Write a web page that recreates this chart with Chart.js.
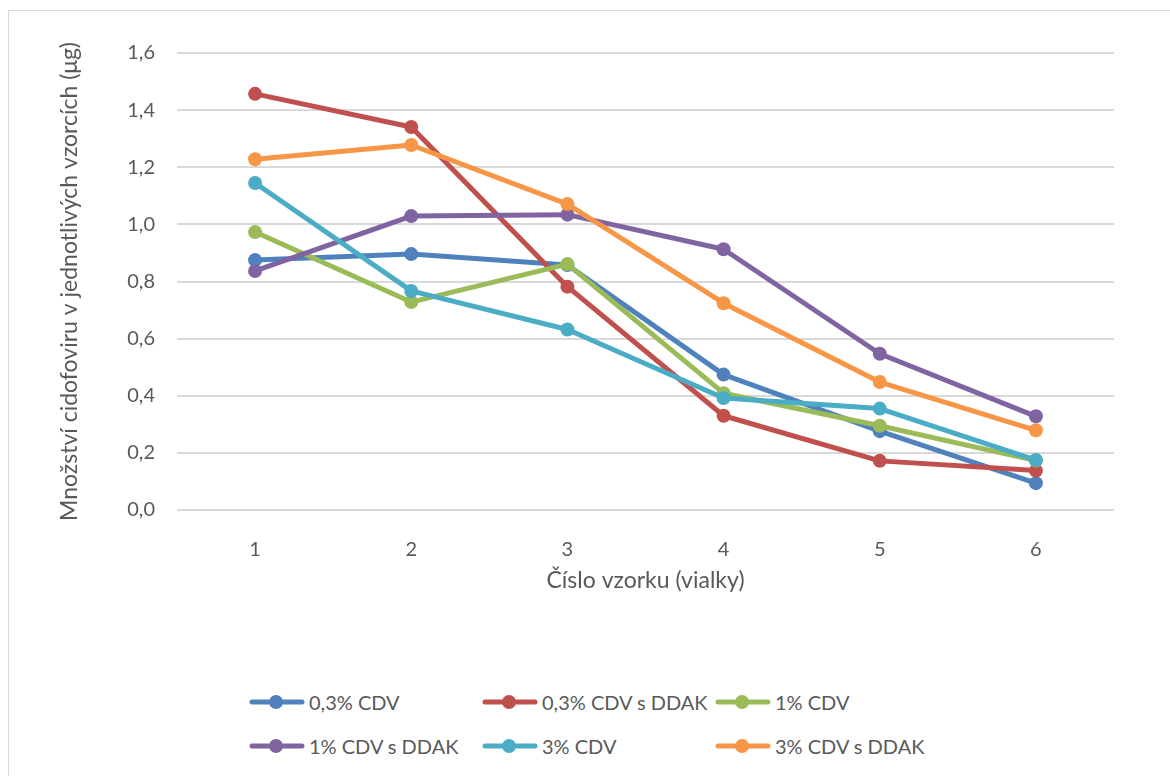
<!DOCTYPE html>
<html>
<head>
<meta charset="utf-8">
<script src="https://cdn.jsdelivr.net/npm/chart.js@4.4.1/dist/chart.umd.min.js"></script>
<style>
  html, body { margin: 0; padding: 0; background: #ffffff; }
  body { width: 1170px; height: 776px; position: relative; overflow: hidden; font-family: Lato, "Open Sans", sans-serif; }
  #frame { position: absolute; left: 8px; top: 10px; width: 1200px; height: 800px; border: 1px solid #d9d9d9; box-sizing: border-box; }
  #wrap { position: absolute; left: 0; top: 0; width: 1170px; height: 640px; }
  #legend { position: absolute; left: 249px; top: 688px; display: grid; grid-template-columns: 233px 233px 233px; grid-auto-rows: 44px; }
  .item { display: flex; align-items: center; height: 28px; color: #595959; font-size: 20px; white-space: nowrap; }
  .item svg { flex: none; margin-right: 4px; }
</style>
</head>
<body>
<div id="frame"></div>
<div id="wrap"><canvas id="chart"></canvas></div>
<div id="legend"></div>
<script>
// Sample numbers (vials) on the x axis
const categories = ['1', '2', '3', '4', '5', '6'];

// Amount of cidofovir found in each sample (µg)
const cdv03      = [0.875, 0.896, 0.858, 0.474, 0.276, 0.094];
const cdv03Ddak  = [1.457, 1.341, 0.782, 0.330, 0.172, 0.138];
const cdv1       = [0.973, 0.728, 0.861, 0.409, 0.295, 0.173];
const cdv1Ddak   = [0.837, 1.029, 1.034, 0.913, 0.547, 0.328];
const cdv3       = [1.145, 0.767, 0.632, 0.392, 0.355, 0.175];
const cdv3Ddak   = [1.228, 1.278, 1.071, 0.724, 0.448, 0.279];

const seriesLabels = ['0,3% CDV', '0,3% CDV s DDAK', '1% CDV', '1% CDV s DDAK', '3% CDV', '3% CDV s DDAK'];
const seriesValues = [cdv03, cdv03Ddak, cdv1, cdv1Ddak, cdv3, cdv3Ddak];
const seriesColors = ['#4F81BD', '#C0504D', '#9BBB59', '#8064A2', '#4BACC6', '#F79646'];

// Value axis ticks
const yTicks = [0, 0.2, 0.4, 0.6, 0.8, 1.0, 1.2, 1.4, 1.6];

const textColor = '#595959';
const fontFamily = 'Lato, "Open Sans", sans-serif';

const datasets = seriesValues.map((values, i) => ({
  label: seriesLabels[i],
  data: values,
  borderColor: seriesColors[i],
  backgroundColor: seriesColors[i],
  pointBackgroundColor: seriesColors[i],
  pointBorderColor: seriesColors[i],
  borderWidth: 5,
  pointRadius: 7,
  pointBorderWidth: 0,
  pointHoverRadius: 7,
  tension: 0,
  fill: false,
  borderCapStyle: 'round',
  borderJoinStyle: 'round',
  // later series are painted above earlier ones
  order: seriesValues.length - 1 - i
}));

new Chart(document.getElementById('chart'), {
  type: 'line',
  data: { labels: categories, datasets },
  options: {
    responsive: true,
    maintainAspectRatio: false,
    animation: false,
    layout: { padding: { left: 40, top: 53, right: 56, bottom: 40 } },
    plugins: {
      legend: { display: false },
      tooltip: { enabled: false }
    },
    scales: {
      x: {
        offset: true,
        grid: { display: false },
        border: { display: false },
        ticks: { color: textColor, font: { family: fontFamily, size: 20 }, padding: 20 },
        title: {
          display: true,
          text: 'Číslo vzorku (vialky)',
          color: textColor,
          font: { family: fontFamily, size: 23 },
          padding: { top: 0, bottom: 6 }
        },
        afterFit: (scale) => { scale.height = 90; }
      },
      y: {
        min: 0,
        max: 1.6,
        afterBuildTicks: (scale) => { scale.ticks = yTicks.map(v => ({ value: v })); },
        grid: { color: '#d9d9d9', lineWidth: 2, drawTicks: false },
        border: { display: false },
        ticks: {
          color: textColor,
          font: { family: fontFamily, size: 20 },
          padding: 22,
          callback: (v) => Number(v).toFixed(1).replace('.', ',')
        },
        title: {
          display: true,
          text: 'Množství cidofoviru v jednotlivých vzorcích (μg)',
          color: textColor,
          font: { family: fontFamily, size: 23 },
          padding: { top: 16, bottom: 0 }
        },
        afterFit: (scale) => { scale.width = 137; }
      }
    }
  }
});

// Legend laid out in a three-column grid under the chart
const legend = document.getElementById('legend');
seriesLabels.forEach((label, i) => {
  const item = document.createElement('div');
  item.className = 'item';
  const c = seriesColors[i];
  item.innerHTML =
    '<svg width="56" height="16" viewBox="0 0 56 16">' +
    '<line x1="3" y1="8" x2="53" y2="8" stroke="' + c + '" stroke-width="5" stroke-linecap="round"/>' +
    '<circle cx="27" cy="8" r="7" fill="' + c + '"/></svg>' +
    '<span>' + label + '</span>';
  legend.appendChild(item);
});
</script>
</body>
</html>
